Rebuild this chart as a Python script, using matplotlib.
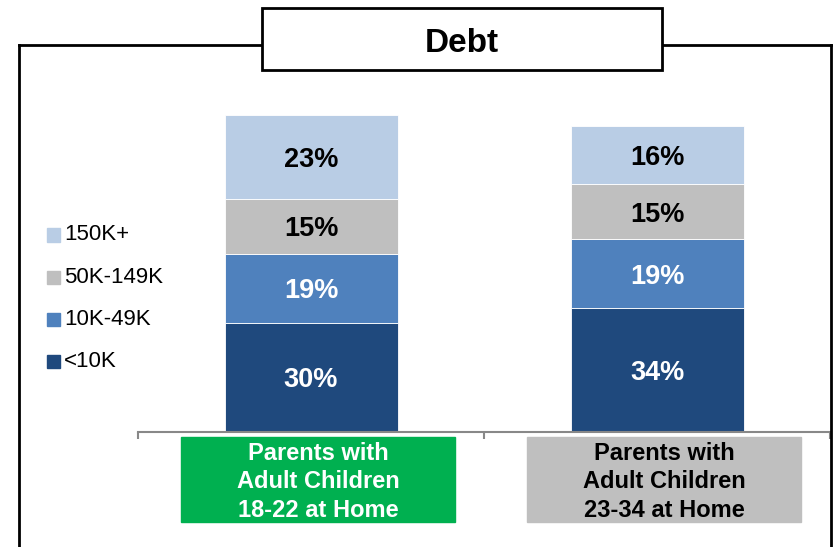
import matplotlib.pyplot as plt
from matplotlib.patches import Rectangle
from matplotlib.lines import Line2D

# Debt distribution by household type (percent)
groups = ['Parents with\nAdult Children\n18-22 at Home',
          'Parents with\nAdult Children\n23-34 at Home']
bands = ['<10K', '10K-49K', '50K-149K', '150K+']
under_10k = [30, 34]
k10_49 = [19, 19]
k50_149 = [15, 15]
k150_plus = [23, 16]

series = [under_10k, k10_49, k50_149, k150_plus]
colors = ['#1F497D', '#4F81BD', '#BFBFBF', '#B9CDE5']
label_colors = ['white', 'white', 'black', 'black']
box_colors = ['#00B050', '#BFBFBF']
box_text = ['white', 'black']

W, H = 835, 547
fig = plt.figure(figsize=(W / 100, H / 100), dpi=100)
plt.rcParams['font.family'] = ['Liberation Sans', 'DejaVu Sans']

def fx(px):
    return px / W

def fy(py):
    return 1 - py / H

# plot area: baseline at y=432, 3.64 px per percent
ax_left, ax_right, ax_base, ax_top = 138, 830, 432, 45
ax = fig.add_axes([fx(ax_left), fy(ax_base), fx(ax_right - ax_left), (ax_base - ax_top) / H])
ax.set_xlim(-0.5, 1.5)
ax.set_ylim(0, (ax_base - ax_top) / 3.64)

x = list(range(len(groups)))
bottom = [0, 0]
for vals, col, lc in zip(series, colors, label_colors):
    ax.bar(x, vals, width=0.5, bottom=bottom, color=col, edgecolor='white', linewidth=0.6)
    for xi, v, b in zip(x, vals, bottom):
        ax.text(xi, b + v / 2, f'{v}%', ha='center', va='center_baseline', fontsize=19.5,
                fontweight='bold', color=lc)
    bottom = [b + v for b, v in zip(bottom, vals)]

for s in ['top', 'left', 'right']:
    ax.spines[s].set_visible(False)
ax.spines['bottom'].set_color('#888888')
ax.spines['bottom'].set_linewidth(1.5)
ax.set_yticks([])
ax.set_xticks([-0.5, 0.5, 1.5])
ax.set_xticklabels([])
ax.tick_params(axis='x', length=5, width=1.5, color='#888888', direction='out')

# category label boxes below the axis
ax_h = ax_base - ax_top
for xi, g, bc, tc in zip(x, groups, box_colors, box_text):
    y0 = (ax_base - 522) / ax_h
    y1 = (ax_base - 437) / ax_h
    cx = xi + 0.02
    ax.add_patch(Rectangle((cx - 0.395, y0), 0.79, y1 - y0, color=bc, clip_on=False,
                           transform=ax.get_xaxis_transform()))
    ax.text(cx, (ax_base - 482) / ax_h, g, transform=ax.get_xaxis_transform(), ha='center',
            va='center', fontsize=17, fontweight='bold', color=tc, linespacing=1.33)

# legend on the left, top entry first
for i, (lab, col) in enumerate(zip(bands[::-1], colors[::-1])):
    yy = 235 + i * 42.3
    fig.patches.append(Rectangle((fx(47), fy(yy + 6.5)), fx(13), 13 / H, color=col,
                                 transform=fig.transFigure, figure=fig))
    fig.text(fx(64), fy(yy), lab, ha='left', va='center', fontsize=16)

# outer frame with the title box on top
frame = dict(color='black', linewidth=2, transform=fig.transFigure)
fig.add_artist(Line2D([fx(19), fx(262)], [fy(45), fy(45)], **frame))
fig.add_artist(Line2D([fx(662), fx(831)], [fy(45), fy(45)], **frame))
fig.add_artist(Line2D([fx(19), fx(19)], [fy(45), 0], **frame))
fig.add_artist(Line2D([fx(831), fx(831)], [fy(45), 0], **frame))
fig.patches.append(Rectangle((fx(262), fy(70)), fx(400), 62 / H, facecolor='white',
                             edgecolor='black', linewidth=2, transform=fig.transFigure,
                             figure=fig, zorder=5))
fig.text(fx(462), fy(40), 'Debt', ha='center', va='center_baseline', fontsize=24,
         fontweight='bold', zorder=6)

fig.savefig('out.png', dpi=100)
